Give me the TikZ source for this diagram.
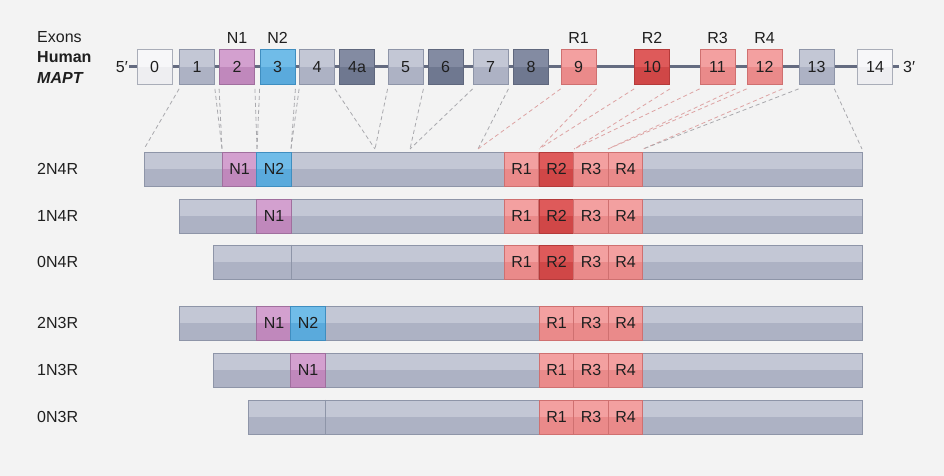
\documentclass[tikz,border=0pt]{standalone}
\usepackage{fontspec}
\setmainfont{Liberation Sans}
\definecolor{bg}{HTML}{F3F3F3}
\definecolor{ink}{HTML}{1F1F1F}
\definecolor{gTop}{HTML}{C3C7D5}
\definecolor{gBot}{HTML}{ADB2C4}
\definecolor{gBd}{HTML}{8E95A8}
\definecolor{dTop}{HTML}{838BA2}
\definecolor{dBot}{HTML}{6F7890}
\definecolor{dBd}{HTML}{5F677D}
\definecolor{wTop}{HTML}{F7F7F9}
\definecolor{wBot}{HTML}{EEEEF1}
\definecolor{wBd}{HTML}{A9ADB8}
\definecolor{nATop}{HTML}{D3A0CF}
\definecolor{nABot}{HTML}{C088BC}
\definecolor{nABd}{HTML}{A06F9E}
\definecolor{nBTop}{HTML}{70BCE8}
\definecolor{nBBot}{HTML}{5AAADC}
\definecolor{nBBd}{HTML}{3F8EC0}
\definecolor{rTop}{HTML}{F3A0A0}
\definecolor{rBot}{HTML}{EA8A8A}
\definecolor{rBd}{HTML}{CF7070}
\definecolor{rrTop}{HTML}{DE5A5A}
\definecolor{rrBot}{HTML}{D04747}
\definecolor{rrBd}{HTML}{B43A3A}
\definecolor{spine}{HTML}{646B80}
\definecolor{dashG}{HTML}{A9A9AD}
\definecolor{dashR}{HTML}{DDA3A3}
\begin{document}
\begin{tikzpicture}[x=1pt,y=-1pt,
  txt/.style={font=\fontsize{16}{19}\selectfont, text=ink, inner sep=0pt},
  box/.style n args={3}{rectangle, inner sep=0pt, draw=#3, fill=#1, line width=0.8pt,
     path picture={\fill[#2] (path picture bounding box.west) rectangle (path picture bounding box.south east);}},
  exon/.style={minimum width=35pt, minimum height=35pt, font=\fontsize{16}{19}\selectfont, text=ink},
  exW/.style={exon, box={wTop}{wBot}{wBd}},
  exL/.style={exon, box={gTop}{gBot}{gBd}},
  exD/.style={exon, box={dTop}{dBot}{dBd}},
  exNa/.style={exon, box={nATop}{nABot}{nABd}},
  exNb/.style={exon, box={nBTop}{nBBot}{nBBd}},
  exR/.style={exon, box={rTop}{rBot}{rBd}},
  exRR/.style={exon, box={rrTop}{rrBot}{rrBd}},
  bar/.style={minimum height=34pt, box={gTop}{gBot}{gBd}},
  seg/.style={minimum width=34.5pt, minimum height=34pt, font=\fontsize{16}{19}\selectfont, text=ink},
  segNa/.style={seg, box={nATop}{nABot}{nABd}},
  segNb/.style={seg, box={nBTop}{nBBot}{nBBd}},
  segR/.style={seg, box={rTop}{rBot}{rBd}},
  segRR/.style={seg, box={rrTop}{rrBot}{rrBd}},
  divider/.style={draw=gBd, line width=0.8pt},
  backbone/.style={draw=spine, line width=3pt},
  link/.style={draw=dashG, line width=0.8pt, dash pattern=on 4pt off 3pt},
  linkR/.style={draw=dashR, line width=0.8pt, dash pattern=on 4pt off 3pt},
]
\useasboundingbox (0,0) rectangle (944,476);
\fill[bg] (0,0) rectangle (944,476);

% left header
\node[txt, anchor=west] (hExons) at (37,37.5) {Exons};
\node[txt, anchor=west] (hHuman) at (37,57) {\bfseries Human};
\node[txt, anchor=west] (hMapt) at (37,78) {\bfseries\itshape MAPT};

% ends and backbone
\node[txt, anchor=east] (p5) at (128,67) {5′};
\node[txt, anchor=west] (p3) at (903,67) {3′};
\draw[backbone] ([xshift=1pt]p5.east) -- ([xshift=-4pt]p3.west);

% exons
\node[exW] (e0) at (154.5,67) {0};
\node[exL] (e1) at (197,67) {1};
\node[exNa] (e2) at (237,67) {2};
\node[exNb] (e3) at (277.5,67) {3};
\node[exL] (e4) at (317,67) {4};
\node[exD] (e4a) at (357,67) {4a};
\node[exL] (e5) at (405.5,67) {5};
\node[exD] (e6) at (445.5,67) {6};
\node[exL] (e7) at (490.5,67) {7};
\node[exD] (e8) at (531,67) {8};
\node[exR] (e9) at (578.5,67) {9};
\node[exRR] (e10) at (652,67) {10};
\node[exR] (e11) at (717.5,67) {11};
\node[exR] (e12) at (764.5,67) {12};
\node[exL] (e13) at (816.5,67) {13};
\node[exW] (e14) at (875,67) {14};

% labels above exons
\node[txt] (lN1) at (237,38) {N1};
\node[txt] (lN2) at (277.5,38) {N2};
\node[txt] (lR1) at (578.5,38) {R1};
\node[txt] (lR2) at (652,38) {R2};
\node[txt] (lR3) at (717.5,38) {R3};
\node[txt] (lR4) at (764.5,38) {R4};

% row labels
\node[txt, anchor=west] (n2N4R) at (37,169) {2N4R};
\node[txt, anchor=west] (n1N4R) at (37,216) {1N4R};
\node[txt, anchor=west] (n0N4R) at (37,262) {0N4R};
\node[txt, anchor=west] (n2N3R) at (37,323) {2N3R};
\node[txt, anchor=west] (n1N3R) at (37,370) {1N3R};
\node[txt, anchor=west] (n0N3R) at (37,417) {0N3R};

% 2N4R
\node[bar, minimum width=718pt] (b1) at (503,169) {};
\node[segNa] (b1n1) at (239.5,169) {N1};
\node[segNb] (b1n2) at (274,169) {N2};
\node[segR] (b1r1) at (521.5,169) {R1};
\node[segRR] (b1r2) at (556.5,169) {R2};
\node[segR] (b1r3) at (591,169) {R3};
\node[segR] (b1r4) at (625.5,169) {R4};
% 1N4R
\node[bar, minimum width=683pt] (b2) at (520.5,216) {};
\node[segNa] (b2n1) at (274,216) {N1};
\node[segR] (b2r1) at (521.5,216) {R1};
\node[segRR] (b2r2) at (556.5,216) {R2};
\node[segR] (b2r3) at (591,216) {R3};
\node[segR] (b2r4) at (625.5,216) {R4};
% 0N4R
\node[bar, minimum width=649pt] (b3) at (537.5,262) {};
\draw[divider] (b3.north -| 291,0) -- (b3.south -| 291,0);
\node[segR] (b3r1) at (521.5,262) {R1};
\node[segRR] (b3r2) at (556.5,262) {R2};
\node[segR] (b3r3) at (591,262) {R3};
\node[segR] (b3r4) at (625.5,262) {R4};
% 2N3R
\node[bar, minimum width=683pt] (b4) at (520.5,323) {};
\node[segNa] (b4n1) at (274,323) {N1};
\node[segNb] (b4n2) at (308,323) {N2};
\node[segR] (b4r1) at (556.5,323) {R1};
\node[segR] (b4r3) at (591,323) {R3};
\node[segR] (b4r4) at (625.5,323) {R4};
% 1N3R
\node[bar, minimum width=649pt] (b5) at (537.5,370) {};
\node[segNa] (b5n1) at (308,370) {N1};
\node[segR] (b5r1) at (556.5,370) {R1};
\node[segR] (b5r3) at (591,370) {R3};
\node[segR] (b5r4) at (625.5,370) {R4};
% 0N3R
\node[bar, minimum width=614pt] (b6) at (555,417) {};
\draw[divider] (b6.north -| 325,0) -- (b6.south -| 325,0);
\node[segR] (b6r1) at (556.5,417) {R1};
\node[segR] (b6r3) at (591,417) {R3};
\node[segR] (b6r4) at (625.5,417) {R4};

% targets on the 2N4R bar
\coordinate (t144) at (144,149);
\coordinate (t222) at (222,149);
\coordinate (t257) at (257,149);
\coordinate (t291) at (291,149);
\coordinate (t375) at (375,149);
\coordinate (t410) at (410,149);
\coordinate (t478) at (478,149);
\coordinate (t539) at (539,149);
\coordinate (t574) at (574,149);
\coordinate (t608) at (608,149);
\coordinate (t643) at (643,149);
\coordinate (t862) at (862,149);

% dashed mapping lines
\draw[link] ([yshift=-4pt]e1.south west) -- (t144);
\draw[link] ([yshift=-4pt]e1.south east) -- (t222);
\draw[link] ([yshift=-4pt]e2.south west) -- (t222);
\draw[link] ([yshift=-4pt]e2.south east) -- (t257);
\draw[link] ([yshift=-4pt]e3.south west) -- (t257);
\draw[link] ([yshift=-4pt]e3.south east) -- (t291);
\draw[link] ([yshift=-4pt]e4.south west) -- (t291);
\draw[link] ([yshift=-4pt]e4.south east) -- (t375);
\draw[link] ([yshift=-4pt]e5.south west) -- (t375);
\draw[link] ([yshift=-4pt]e5.south east) -- (t410);
\draw[link] ([yshift=-4pt]e7.south west) -- (t410);
\draw[link] ([yshift=-4pt]e7.south east) -- (t478);
\draw[linkR] ([yshift=-4pt]e9.south west) -- (t478);
\draw[linkR] ([yshift=-4pt]e9.south east) -- (t539);
\draw[linkR] ([yshift=-4pt]e10.south west) -- (t539);
\draw[linkR] ([yshift=-4pt]e10.south east) -- (t574);
\draw[linkR] ([yshift=-4pt]e11.south west) -- (t574);
\draw[linkR] ([yshift=-4pt]e11.south east) -- (t608);
\draw[linkR] ([yshift=-4pt]e12.south west) -- (t608);
\draw[linkR] ([yshift=-4pt]e12.south east) -- (t643);
\draw[link] ([yshift=-4pt]e13.south west) -- (t643);
\draw[link] ([yshift=-4pt]e13.south east) -- (t862);
\end{tikzpicture}
\end{document}
